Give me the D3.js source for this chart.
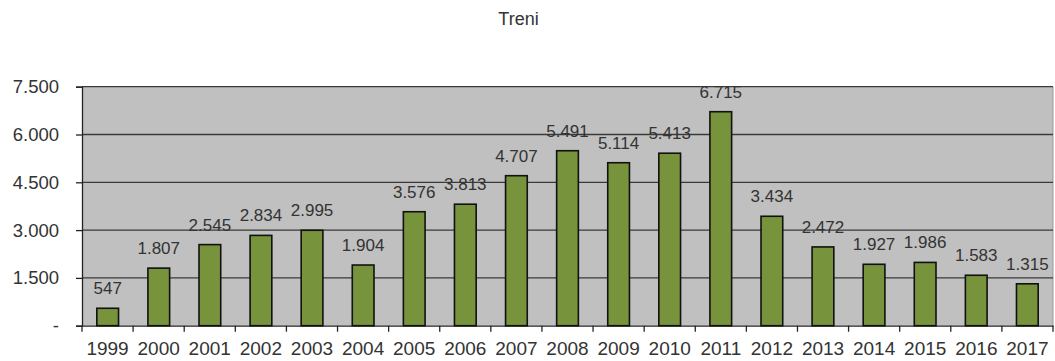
<!DOCTYPE html>
<html><head><meta charset="utf-8">
<script src="https://cdn.jsdelivr.net/npm/d3@7"></script>
<style>
html,body{margin:0;padding:0;background:#fff;}
text{font-family:"Liberation Sans",Arial,sans-serif;fill:#333;}
</style></head>
<body><svg id="c" width="1055" height="361"></svg>
<script>
const years = ["1999","2000","2001","2002","2003","2004","2005","2006","2007","2008","2009","2010","2011","2012","2013","2014","2015","2016","2017"];
const values = [547,1807,2545,2834,2995,1904,3576,3813,4707,5491,5114,5413,6715,3434,2472,1927,1986,1583,1315];
const yTicks = [0,1500,3000,4500,6000,7500];
const title = "Treni";

const svg = d3.select("#c");
const m = {left:82, right:1053, top:86.7, bottom:325.7};
const x = d3.scaleBand().domain(years).range([m.left, m.right]).paddingInner(0.575).paddingOuter(0.29);
const xb = d3.scaleBand().domain(years).range([m.left, m.right]);
const y = d3.scaleLinear().domain([0,7500]).range([m.bottom, m.top]);
const fmt = v => v === 0 ? "-" : d3.format(",")(v).replace(/,/g, ".");

svg.append("rect").attr("x", m.left).attr("y", m.top).attr("width", m.right-m.left).attr("height", m.bottom-m.top).attr("fill", "#c0c0c0");
svg.append("line").attr("x1", m.right).attr("x2", m.right).attr("y1", m.top).attr("y2", m.bottom).attr("stroke", "#999").attr("stroke-width", 1);

// gridlines
svg.append("g").selectAll("line").data(yTicks.filter(d=>d>0)).join("line")
  .attr("x1", m.left).attr("x2", m.right).attr("y1", d=>y(d)).attr("y2", d=>y(d))
  .attr("stroke", "#3a3a3a").attr("stroke-width", 1.3);

// y axis
const ya = svg.append("g").attr("transform", `translate(${m.left},0)`)
  .call(d3.axisLeft(y).tickValues(yTicks).tickFormat(fmt).tickSize(6).tickPadding(17));
ya.select(".domain").attr("stroke", "#222").attr("stroke-width", 1.3);
ya.selectAll(".tick line").attr("stroke", "#222").attr("stroke-width", 1.3);
ya.selectAll("text").style("font-size", "18.5px").attr("fill", "#2e2e2e");

// x axis
const xa = svg.append("g").attr("transform", `translate(0,${m.bottom})`)
  .call(d3.axisBottom(xb).tickSize(0).tickPadding(15.5));
xa.select(".domain").attr("stroke", "#222").attr("stroke-width", 1.3);
xa.selectAll("text").style("font-size", "19px").attr("fill", "#2e2e2e");
svg.append("g").selectAll("line").data(years.concat(["end"])).join("line")
  .attr("x1", (d,i)=> m.left + i*xb.step()).attr("x2", (d,i)=> m.left + i*xb.step())
  .attr("y1", m.bottom).attr("y2", m.bottom+6).attr("stroke", "#222").attr("stroke-width", 1.3);

// bars
svg.append("g").selectAll("rect").data(values).join("rect")
  .attr("x", (d,i)=> x(years[i])).attr("width", x.bandwidth())
  .attr("y", d=>y(d)).attr("height", d=> m.bottom - y(d))
  .attr("fill", "#77933c").attr("stroke", "#111").attr("stroke-width", 1.6);

// labels
svg.append("g").selectAll("text").data(values).join("text")
  .attr("x", (d,i)=> x(years[i]) + x.bandwidth()/2).attr("y", d=> y(d) - 14)
  .attr("text-anchor", "middle").style("font-size", "17px").attr("fill", "#333")
  .text(fmt);

svg.append("text").attr("x", 518.5).attr("y", 25).attr("text-anchor", "middle")
  .style("font-size", "18px").attr("fill", "#222").text(title);
</script></body></html>
